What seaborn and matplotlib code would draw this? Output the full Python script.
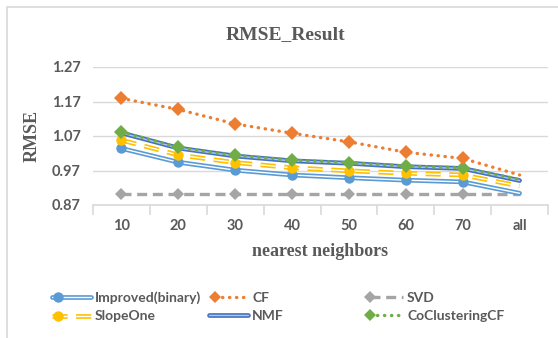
import matplotlib
matplotlib.use("Agg")
import matplotlib.pyplot as plt
import matplotlib.ticker as mticker
from matplotlib.lines import Line2D
from matplotlib.legend_handler import HandlerTuple, HandlerLine2D
from matplotlib.patches import Rectangle
import seaborn as sns
import pandas as pd

categories = ["10", "20", "30", "40", "50", "60", "70", "all"]
improved = [1.034, 0.994, 0.971, 0.957, 0.949, 0.942, 0.937, 0.904]
cf = [1.179, 1.147, 1.105, 1.078, 1.053, 1.023, 1.005, 0.957]
svd = [0.902, 0.902, 0.902, 0.902, 0.902, 0.902, 0.902, 0.902]
slopeone = [1.058, 1.015, 0.993, 0.978, 0.969, 0.962, 0.957, 0.925]
nmf = [1.079, 1.035, 1.012, 0.998, 0.991, 0.981, 0.976, 0.941]
cocluster = [1.082, 1.037, 1.014, 1.000, 0.993, 0.983, 0.978, 0.944]
yticks = [0.87, 0.97, 1.07, 1.17, 1.27]

sns.set_theme(style="white")
plt.rcParams["font.family"] = ["Lato", "DejaVu Sans"]

TXT = "#595959"
GRID = "#d9d9d9"
C_IMP = "#5b9bd5"
C_CF = "#ed7d31"
C_SVD = "#a5a5a5"
C_SLO = "#ffc000"
C_NMF = "#4472c4"
C_CO = "#70ad47"

DOT = (0, (0.1, 2.0))
SVD_DASH = (0, (3, 1.7))
OUT_LW, IN_LW = 3.4, 1.0
SLO_OUT = (0, (3.2, 1.8))
SLO_IN = (0, (3.2 * OUT_LW / IN_LW, 1.8 * OUT_LW / IN_LW))
MEV = list(range(len(categories) - 1))

fig = plt.figure(figsize=(5.58, 3.38), dpi=100)
ax = fig.add_axes([93 / 558, 1 - 205 / 338, (548 - 93) / 558, (205 - 67) / 338])

def df(vals):
    return pd.DataFrame({"k": categories, "v": vals})

# SVD
sns.lineplot(data=df(svd), x="k", y="v", ax=ax, color=C_SVD, lw=2.4,
             linestyle=SVD_DASH, marker="D", markersize=6, markevery=MEV,
             markeredgewidth=0, sort=False, zorder=3)
# Improved (compound line)
sns.lineplot(data=df(improved), x="k", y="v", ax=ax, color=C_IMP, lw=OUT_LW, sort=False, zorder=4)
sns.lineplot(data=df(improved), x="k", y="v", ax=ax, color="white", lw=IN_LW, sort=False, zorder=4)
sns.lineplot(data=df(improved), x="k", y="v", ax=ax, color=C_IMP, linestyle="none",
             marker="o", markersize=7.5, markeredgewidth=0, markevery=MEV, sort=False, zorder=5)
# SlopeOne (compound dashed)
sns.lineplot(data=df(slopeone), x="k", y="v", ax=ax, color=C_SLO, lw=OUT_LW,
             linestyle=SLO_OUT, sort=False, zorder=4)
sns.lineplot(data=df(slopeone), x="k", y="v", ax=ax, color="white", lw=IN_LW,
             linestyle=SLO_IN, sort=False, zorder=4)
sns.lineplot(data=df(slopeone), x="k", y="v", ax=ax, color=C_SLO, linestyle="none",
             marker="o", markersize=7.5, markeredgewidth=0, markevery=MEV, sort=False, zorder=5)
# NMF (compound)
sns.lineplot(data=df(nmf), x="k", y="v", ax=ax, color=C_NMF, lw=OUT_LW, sort=False, zorder=4)
sns.lineplot(data=df(nmf), x="k", y="v", ax=ax, color="#b4c7e7", lw=IN_LW, sort=False, zorder=4)
# CoClusteringCF
sns.lineplot(data=df(cocluster), x="k", y="v", ax=ax, color=C_CO, lw=2.4,
             linestyle=DOT, dash_capstyle="round", marker="D", markevery=MEV,
             markersize=7, markeredgewidth=0, sort=False, zorder=6)
# CF
sns.lineplot(data=df(cf), x="k", y="v", ax=ax, color=C_CF, lw=2.4,
             linestyle=DOT, dash_capstyle="round", marker="D", markevery=MEV,
             markersize=7.5, markeredgewidth=0, sort=False, zorder=6)

ax.set_xlim(-0.5, len(categories) - 0.5)
ax.set_ylim(yticks[0], yticks[-1])
ax.set_yticks(yticks)
ax.set_yticklabels([f"{t:.2f}" for t in yticks])
ax.yaxis.grid(True, color=GRID, lw=1)
ax.set_axisbelow(True)
for s in ["top", "right", "left"]:
    ax.spines[s].set_visible(False)
ax.spines["bottom"].set_color(GRID)
ax.spines["bottom"].set_linewidth(1.2)
ax.xaxis.set_minor_locator(mticker.FixedLocator([i - 0.5 for i in range(len(categories) + 1)]))
ax.tick_params(axis="x", which="minor", length=7, width=1.2, color=GRID, direction="out", bottom=True)
ax.tick_params(axis="x", which="major", length=0, pad=10, labelsize=10.5, labelcolor=TXT)
ax.tick_params(axis="y", length=0, pad=9, labelsize=10.5, labelcolor=TXT)
for lab in ax.get_xticklabels() + ax.get_yticklabels():
    lab.set_fontweight("bold")

serif = ["Liberation Serif", "DejaVu Serif"]
ax.set_xlabel("nearest neighbors", family=serif, fontweight="bold", fontsize=13,
              color=TXT, labelpad=7)
ax.set_ylabel("RMSE", family=serif, fontweight="bold", fontsize=13, color=TXT, labelpad=8)
fig.text(0.512, 1 - 35 / 338, "RMSE_Result", family=serif, fontweight="bold",
         fontsize=14, color=TXT, ha="center", va="center")


class LeftMarker(HandlerLine2D):
    def create_artists(self, legend, orig_handle, xdescent, ydescent, width, height,
                       fontsize, trans):
        arts = super().create_artists(legend, orig_handle, xdescent, ydescent, width,
                                      height, fontsize, trans)
        for a in arts:
            m = a.get_marker()
            if m not in (None, "None", "none", ""):
                xd = list(a.get_xdata())
                left = xd[0] + 4.5
                if len(xd) >= 3:
                    a.set_xdata([left, left, xd[-1]])
                    a.set_markevery([1])
                else:
                    a.set_xdata([left] * len(xd))
        return arts


def comp(color, inner, ls_outer="-", ls_inner="-", marker=None):
    h = [Line2D([], [], color=color, lw=OUT_LW, linestyle=ls_outer),
         Line2D([], [], color=inner, lw=IN_LW, linestyle=ls_inner)]
    if marker:
        h.append(Line2D([], [], color=color, linestyle="none", marker=marker,
                        markersize=7.5, markeredgewidth=0))
    return tuple(h)

h_imp = comp(C_IMP, "white", marker="o")
h_slo = comp(C_SLO, "white", SLO_OUT, SLO_IN, marker="o")
h_nmf = comp(C_NMF, "#b4c7e7")
h_cf = Line2D([], [], color=C_CF, lw=2.4, linestyle=DOT, dash_capstyle="round",
              marker="D", markersize=6, markeredgewidth=0)
h_svd = Line2D([], [], color=C_SVD, lw=2.4, linestyle=SVD_DASH,
               marker="D", markersize=6, markeredgewidth=0)
h_co = Line2D([], [], color=C_CO, lw=2.4, linestyle=DOT, dash_capstyle="round",
              marker="D", markersize=6, markeredgewidth=0)

columns = [([h_imp, h_slo], ["Improved(binary)", "SlopeOne"], 52),
           ([h_cf, h_nmf], ["CF", "NMF"], 209),
           ([h_svd, h_co], ["SVD", "CoClusteringCF"], 364)]
hmap = {tuple: HandlerTuple(ndivide=1), Line2D: LeftMarker()}
for hs, ls, x0 in columns:
    leg = fig.legend(hs, ls, ncol=1, loc="center left",
                     bbox_to_anchor=(x0 / 558, 1 - 307 / 338), frameon=False,
                     borderpad=0, borderaxespad=0,
                     handlelength=2.8, handletextpad=0.3, labelspacing=0.45,
                     prop={"family": ["Lato", "DejaVu Sans"], "weight": "bold", "size": 10},
                     handler_map=hmap)
    for t in leg.get_texts():
        t.set_color(TXT)

fig.patches.append(Rectangle((7 / 558, -0.05), 1.2, 1 - 7 / 338 + 0.05,
                             transform=fig.transFigure, fill=False, edgecolor=GRID, lw=1.2))

fig.savefig("out.png", dpi=100, facecolor="white")
